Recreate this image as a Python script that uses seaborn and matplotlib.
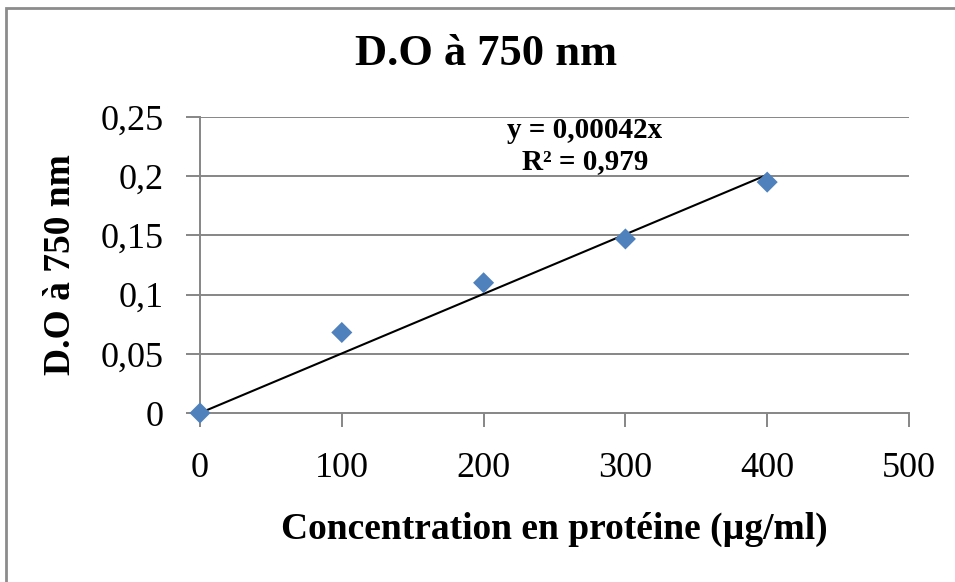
import matplotlib
matplotlib.use('Agg')
import matplotlib.pyplot as plt
import seaborn as sns
import numpy as np
import pandas as pd
from matplotlib.patches import Rectangle

# data
concentration = [0, 100, 200, 300, 400]
absorbance = [0.0, 0.068, 0.110, 0.147, 0.195]
eq_label = 'y = 0,00042x'
r2_label = 'R² = 0,979'
x_ticks = [0, 100, 200, 300, 400, 500]
y_ticks = [0, 0.05, 0.10, 0.15, 0.20, 0.25]
y_tick_labels = ['0', '0,05', '0,1', '0,15', '0,2', '0,25']

sns.set_style('white')
plt.rcParams['font.family'] = ['Liberation Serif', 'DejaVu Serif']
plt.rcParams['text.color'] = 'black'
plt.rcParams['axes.labelcolor'] = 'black'
plt.rcParams['xtick.labelcolor'] = 'black'
plt.rcParams['ytick.labelcolor'] = 'black'

df = pd.DataFrame({'conc': concentration, 'do': absorbance})

# linear trendline forced through the origin (least squares)
xs = np.array(concentration, dtype=float)
ys = np.array(absorbance, dtype=float)
slope = (xs * ys).sum() / (xs ** 2).sum()
fit_x = np.array([xs.min(), xs.max()])
fit_df = pd.DataFrame({'conc': fit_x, 'do': slope * fit_x})

fig = plt.figure(figsize=(9.55, 5.82), dpi=100)
ax = fig.add_axes([200 / 955, 1 - 413 / 582, 709 / 955, 296 / 582])

grid_col = '#868686'
for yv in y_ticks[1:]:
    ax.axhline(yv, color=grid_col, lw=1.4, zorder=0)

sns.lineplot(data=fit_df, x='conc', y='do', ax=ax, color='black', lw=1.5, zorder=2)
sns.scatterplot(data=df, x='conc', y='do', ax=ax, marker='D', s=115,
                color='#4F81BD', edgecolor='none', zorder=3, clip_on=False)

ax.set_xlim(0, 500)
ax.set_ylim(0, 0.25)
ax.set_xticks(x_ticks)
ax.set_xticklabels([str(v) for v in x_ticks])
ax.set_yticks(y_ticks)
ax.set_yticklabels(y_tick_labels)
ax.tick_params(axis='both', labelsize=26, color=grid_col, labelcolor='black',
               length=10, width=1.4, direction='out', bottom=True, left=True)
ax.tick_params(axis='x', pad=18)
ax.tick_params(axis='y', pad=16)

for side in ['top', 'right']:
    ax.spines[side].set_visible(False)
for side in ['left', 'bottom']:
    ax.spines[side].set_color(grid_col)
    ax.spines[side].set_linewidth(1.4)

ax.set_xlabel('Concentration en protéine (µg/ml)', fontsize=27, fontweight='bold', color='black')
ax.set_ylabel('D.O à 750 nm', fontsize=27, fontweight='bold', color='black')
ax.xaxis.label.set_va('center')
ax.yaxis.label.set_va('center')
ax.xaxis.set_label_coords(0.5, (413 - 529) / 296)
ax.yaxis.set_label_coords((60 - 200) / 709, 0.5)

fig.text(486 / 955, 1 - 54 / 582, 'D.O à 750 nm', ha='center', va='center',
         fontsize=32, fontweight='bold', color='black')

ax.text(0.543, 0.953, eq_label, transform=ax.transAxes, color='black',
        ha='center', va='center', fontsize=21, fontweight='bold')
ax.text(0.543, 0.851, r2_label, transform=ax.transAxes, color='black',
        ha='center', va='center', fontsize=21, fontweight='bold')

# outer chart border (runs off the image on the right and bottom)
fig.patches.append(Rectangle((6 / 955, -0.1), 1.2, 1.1 - 7.5 / 582, transform=fig.transFigure,
                             fill=False, edgecolor='#8c8c8c', lw=2, zorder=0))

fig.savefig('out.png', dpi=100)
